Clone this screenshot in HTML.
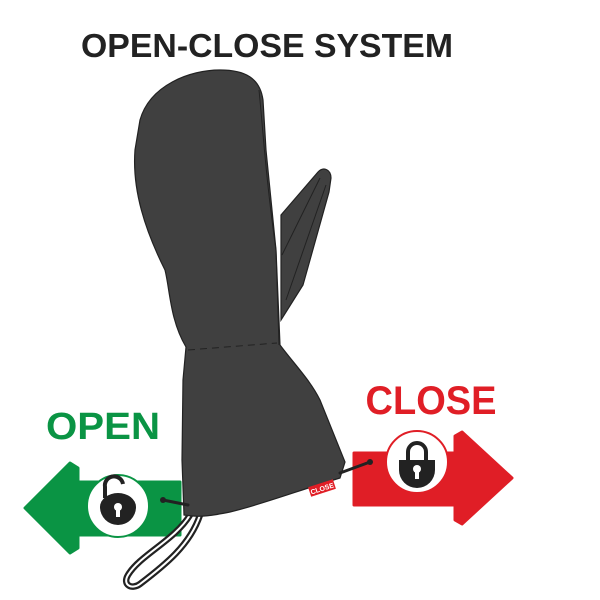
<!DOCTYPE html>
<html><head><style>
html,body{margin:0;padding:0;background:#fff;width:600px;height:600px;overflow:hidden}
text{font-family:"Liberation Sans","DejaVu Sans",sans-serif;font-weight:bold}
</style></head><body>
<svg width="600" height="600" viewBox="0 0 600 600" xmlns="http://www.w3.org/2000/svg">
<rect width="600" height="600" fill="#fff"/>
<text x="267" y="57" font-size="33" fill="#222" text-anchor="middle" textLength="372" lengthAdjust="spacingAndGlyphs">OPEN-CLOSE SYSTEM</text>
<text x="103" y="439" font-size="38" fill="#0a9444" text-anchor="middle" textLength="114" lengthAdjust="spacingAndGlyphs">OPEN</text>
<text x="431" y="414" font-size="40" fill="#e01e26" text-anchor="middle" textLength="131" lengthAdjust="spacingAndGlyphs">CLOSE</text>
<!-- green arrow -->
<path d="M25,508 L70,463 L78,468 L78,482 L180,482 L180,535 L78,535 L78,548 L70,553 Z" fill="#0a9444" stroke="#0a9444" stroke-linejoin="round" stroke-width="3"/>
<circle cx="118" cy="506" r="31" fill="#fff" stroke="#0a9444" stroke-width="2"/>
<path d="M105,498 L105,487 A9,9 0 0 1 123,484" fill="none" stroke="#222" stroke-width="4"/>
<path d="M100,507 L136,507 A18,18 0 0 1 100,507 Z" fill="#222"/>
<path d="M100,507 A18,14 0 0 1 136,507" fill="#222"/>
<circle cx="118" cy="507" r="4" fill="#fff"/><rect x="116" y="508" width="4" height="9" fill="#fff"/>
<!-- red arrow -->
<path d="M354,453 L455,453 L455,436 L462,432 L512,478 L462,524 L455,520 L455,505 L354,505 Z" fill="#e01e26" stroke="#e01e26" stroke-linejoin="round" stroke-width="3"/>
<circle cx="417" cy="462" r="31" fill="#fff" stroke="#e01e26" stroke-width="2"/>
<path d="M408,462 L408,452 A9,9 0 0 1 426,452 L426,462" fill="none" stroke="#222" stroke-width="4"/>
<path d="M399,460 L435,460 L435,470 A18,18 0 0 1 399,470 Z" fill="#222"/>
<circle cx="417" cy="469" r="4" fill="#fff"/><rect x="415" y="470" width="4" height="9" fill="#fff"/>
<!-- loop strap -->
<path d="M190,515 C175,540 140,555 128,575 C122,585 132,590 140,584 C165,565 190,545 200,515" fill="none" stroke="#222" stroke-width="6.5"/>
<path d="M190,515 C175,540 140,555 128,575 C122,585 132,590 140,584 C165,565 190,545 200,515" fill="none" stroke="#fff" stroke-width="2"/>
<!-- mitten -->
<path d="M281,215 L318,172 C324,166 331,170 331,178 L329,192 L303,285 L281,320 Z" fill="#404040" stroke="#222" stroke-width="1.2"/>
<path d="M282,255 L320,178 M286,300 L326,185" stroke="#222" stroke-width="1"/>
<path d="M140,120 C150,85 190,70 220,70 C245,70 260,78 263,100 L266,150 L276,250 L280,345 C295,365 310,380 320,400 L345,462 L340,478 C300,490 260,505 230,512 C215,515 200,518 184,515 L182,460 L183,380 L186,347 C170,320 170,290 165,270 C145,230 132,190 135,150 Z" fill="#404040" stroke="#222" stroke-width="1.2"/>
<path d="M259,90 C263,130 266,180 276,250 L279,345" fill="none" stroke="#222" stroke-width="1"/>
<path d="M188,350 L277,343" stroke="#222" stroke-width="1" stroke-dasharray="7,5"/>
<!-- cords -->
<path d="M340,473 L370,462" stroke="#222" stroke-width="3" stroke-linecap="round"/>
<circle cx="370" cy="462" r="3" fill="#222"/>
<path d="M163,500 L188,505" stroke="#222" stroke-width="3" stroke-linecap="round"/>
<circle cx="163" cy="500" r="3" fill="#222"/>
<g transform="translate(322,488) rotate(-18)">
<rect x="-13" y="-5" width="26" height="10" fill="#e01e26"/>
<text x="0" y="3" font-size="7" fill="#fff" text-anchor="middle">CLOSE</text>
</g>
</svg>
</body></html>
